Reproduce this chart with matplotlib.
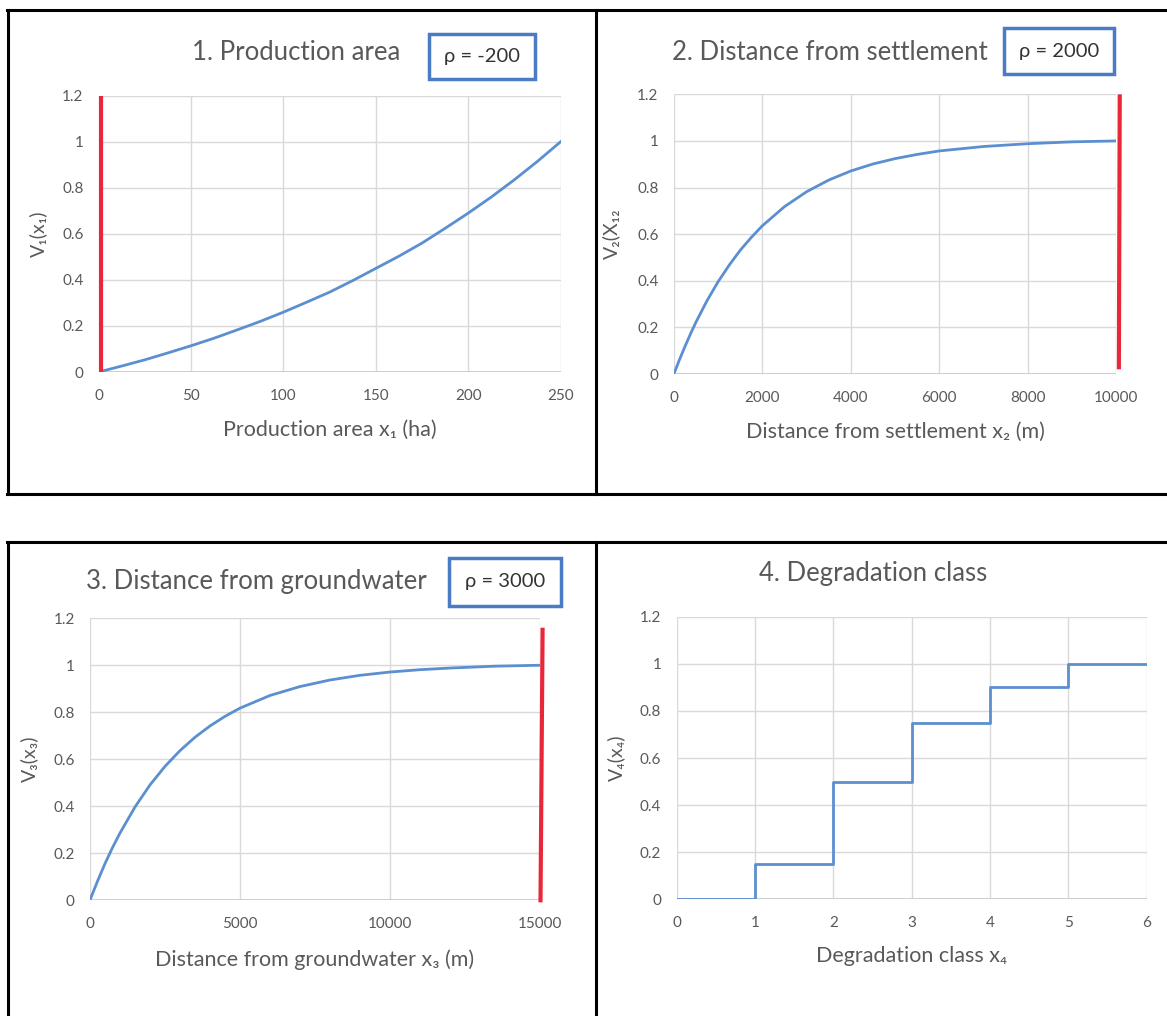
import matplotlib
matplotlib.use("Agg")
import matplotlib.pyplot as plt
from matplotlib.lines import Line2D
from matplotlib.patches import Rectangle

plt.rcParams['font.family'] = ['Lato', 'DejaVu Sans']

W, H = 1167, 1016

# ---------------- data ----------------
x1 = [0, 12.5, 25, 37.5, 50, 62.5, 75, 87.5, 100, 112.5, 125, 137.5, 150,
      162.5, 175, 187.5, 200, 212.5, 225, 237.5, 250]
v1 = [0, 0.026, 0.053, 0.083, 0.114, 0.147, 0.183, 0.220, 0.260, 0.303, 0.347,
      0.397, 0.450, 0.503, 0.560, 0.624, 0.690, 0.760, 0.835, 0.915, 1.0]

x2 = [0, 125, 250, 375, 500, 750, 1000, 1250, 1500, 1750, 2000, 2500, 3000,
      3500, 4000, 4500, 5000, 5500, 6000, 7000, 8000, 9000, 10000]
v2 = [0, 0.061, 0.118, 0.172, 0.223, 0.315, 0.396, 0.467, 0.531, 0.586, 0.636,
      0.718, 0.782, 0.832, 0.871, 0.901, 0.924, 0.942, 0.957, 0.976, 0.988,
      0.996, 1.0]

x3 = [0, 250, 500, 750, 1000, 1500, 2000, 2500, 3000, 3500, 4000, 4500, 5000,
      6000, 7000, 8000, 9000, 10000, 11000, 12000, 13500, 15000]
v3 = [0, 0.080, 0.155, 0.223, 0.285, 0.396, 0.490, 0.569, 0.636, 0.693, 0.741,
      0.782, 0.817, 0.871, 0.909, 0.937, 0.957, 0.971, 0.981, 0.988, 0.996, 1.0]

x4 = [0, 1, 2, 3, 4, 5, 6]
v4 = [0, 0.15, 0.5, 0.75, 0.9, 1.0, 1.0]

# red vertical markers: (x_bottom, x_top), (y_bottom, y_top)
red1 = ([1.5, 1.5], [0.0, 1.2])
red2 = ([10060, 10080], [0.02, 1.2])
red3 = ([15030, 15100], [-0.01, 1.16])

titles = ["1. Production area", "2. Distance from settlement",
          "3. Distance from groundwater", "4. Degradation class"]
rho_labels = ["ρ = -200", "ρ = 2000", "ρ = 3000", None]
xlabels = ["Production area x₁ (ha)", "Distance from settlement x₂ (m)",
           "Distance from groundwater x₃ (m)", "Degradation class x₄"]
ylabels = ["V₁(x₁)", "V₂(X₁₂", "V₃(x₃)", "V₄(x₄)"]
xticks = [[0, 50, 100, 150, 200, 250],
          [0, 2000, 4000, 6000, 8000, 10000],
          [0, 5000, 10000, 15000],
          [0, 1, 2, 3, 4, 5, 6]]
yticks = [0, 0.2, 0.4, 0.6, 0.8, 1, 1.2]
ytick_labels = ["0", "0.2", "0.4", "0.6", "0.8", "1", "1.2"]

# ---------------- layout (pixels) ----------------
axes_px = [(98.7, 560.6, 95.7, 372.0),
           (673.9, 1116.2, 94.3, 374.0),
           (90.0, 539.6, 618.3, 900.0),
           (676.5, 1146.8, 616.7, 899.3)]
title_pos = [(296, 52), (830, 53), (256, 581), (873, 573)]
rho_box = [(428.6, 534.6, 34, 79), (1004, 1114, 28, 74), (449, 560.7, 558, 606), None]
xlabel_pos = [(330, 430), (895, 432), (315, 960), (912, 956)]
ylabel_x = [38, 611, 29, 616]

GRAY = "#595959"
GRID = "#d9d9d9"
BLUE = "#5b8fd0"
BOXBLUE = "#4a7cc4"
RED = "#e8283a"

fig = plt.figure(figsize=(W / 100, H / 100), dpi=100)


def fx(px):
    return px / W


def fy(py):
    return 1 - py / H


series = [(x1, v1), (x2, v2), (x3, v3), (x4, v4)]
reds = [red1, red2, red3, None]

for i in range(4):
    l, r, t, b = axes_px[i]
    ax = fig.add_axes([fx(l), fy(b), fx(r) - fx(l), fy(t) - fy(b)])
    xs, vs = series[i]
    if i == 3:
        ax.step(xs, vs, where='post', color=BLUE, lw=2, zorder=3)
    else:
        ax.plot(xs, vs, color=BLUE, lw=2, zorder=3)
    if reds[i] is not None:
        rx, ry = reds[i]
        ax.plot(rx, ry, color=RED, lw=3, zorder=4, clip_on=False,
                solid_capstyle='butt')
    ax.set_xlim(xticks[i][0], xticks[i][-1])
    ax.set_ylim(0, 1.2)
    ax.set_xticks(xticks[i])
    ax.set_yticks(yticks)
    ax.set_yticklabels(ytick_labels)
    for s in ax.spines.values():
        s.set_visible(False)
    ax.grid(True, color=GRID, lw=1)
    ax.set_axisbelow(True)
    ax.axhline(0, color="#c8c8c8", lw=1.2, zorder=1)
    ax.tick_params(axis='x', length=0, labelsize=11, labelcolor=GRAY, pad=12)
    ax.tick_params(axis='y', length=0, labelsize=11, labelcolor=GRAY, pad=11)

    # titles & labels
    tx, ty = title_pos[i]
    fig.text(fx(tx), fy(ty), titles[i], ha='center', va='center',
             fontsize=18.5, color=GRAY)
    lx, ly = xlabel_pos[i]
    fig.text(fx(lx), fy(ly), xlabels[i], ha='center', va='center',
             fontsize=15.5, color=GRAY)
    fig.text(fx(ylabel_x[i]), fy((t + b) / 2), ylabels[i], ha='center',
             va='center', rotation=90, fontsize=14, color=GRAY)

    if rho_box[i] is not None:
        bl, br, bt, bb = rho_box[i]
        fig.patches.append(Rectangle((fx(bl), fy(bb)), fx(br) - fx(bl),
                                     fy(bt) - fy(bb), transform=fig.transFigure,
                                     fill=False, edgecolor=BOXBLUE, lw=2.5))
        fig.text(fx((bl + br) / 2), fy((bt + bb) / 2), rho_labels[i],
                 ha='center', va='center', fontsize=14.5, color="#333333")

# black frame lines
frame = [((7, 1167), (10, 10)), ((7, 1167), (493.5, 493.5)),
         ((8, 8), (10, 493.5)), ((596, 596), (10, 493.5)),
         ((7, 1167), (542, 542)), ((8, 8), (542, 1016)),
         ((596, 596), (542, 1016))]
for xs_, ys_ in frame:
    fig.add_artist(Line2D([fx(v) for v in xs_], [fy(v) for v in ys_],
                          transform=fig.transFigure, color='black', lw=2.2))

fig.savefig("out.png", dpi=100, facecolor='white')
